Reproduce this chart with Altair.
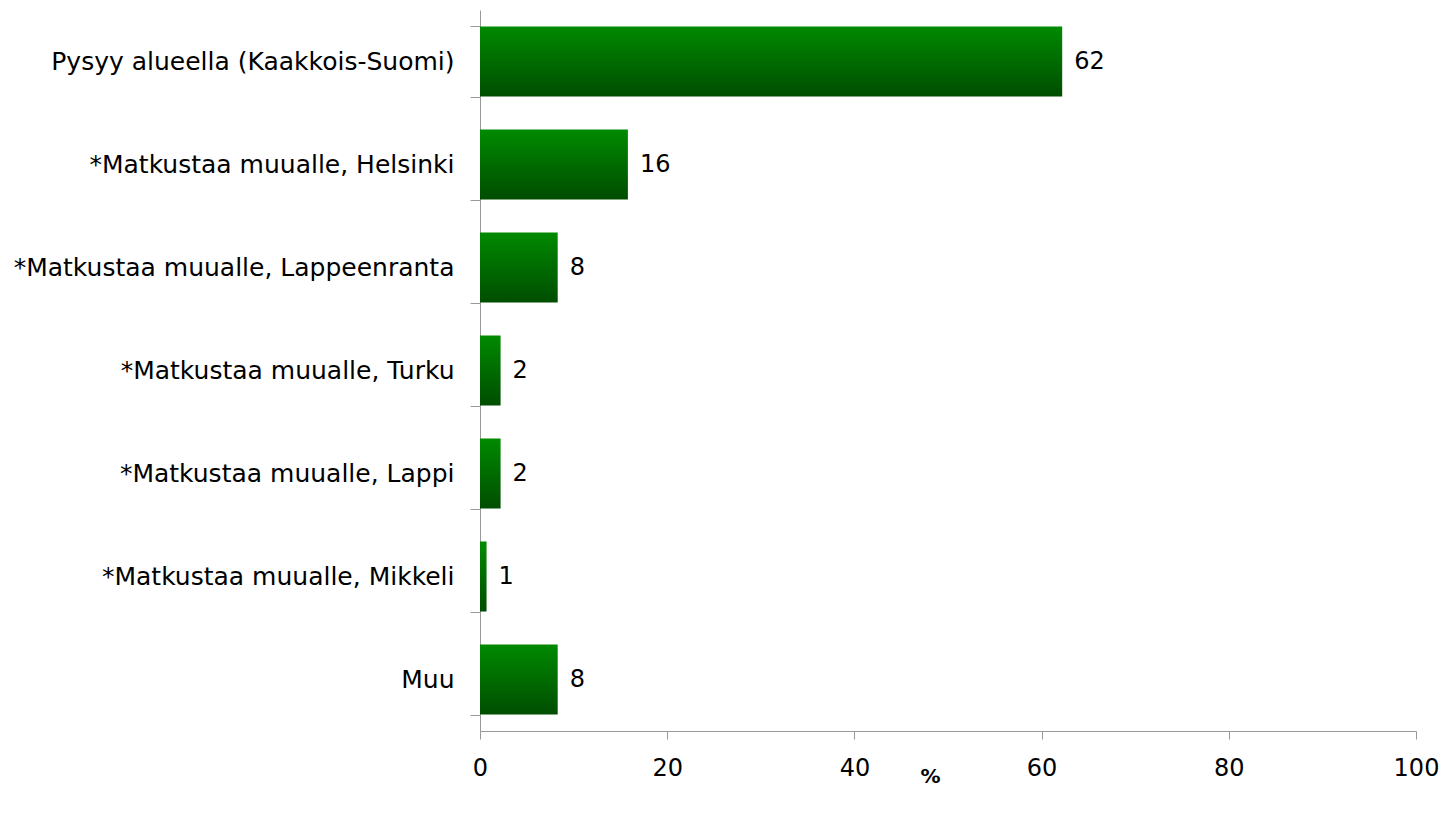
import altair as alt
import pandas as pd

categories = [
    "Pysyy alueella (Kaakkois-Suomi)",
    "*Matkustaa muualle, Helsinki",
    "*Matkustaa muualle, Lappeenranta",
    "*Matkustaa muualle, Turku",
    "*Matkustaa muualle, Lappi",
    "*Matkustaa muualle, Mikkeli",
    "Muu",
]
values = [62.2, 15.8, 8.3, 2.2, 2.2, 0.7, 8.3]
labels = ["62", "16", "8", "2", "2", "1", "8"]

df = pd.DataFrame({"cat": categories, "val": values, "lab": labels})

FONT = "DejaVu Sans"

y = alt.Y("cat:N", sort=categories, title=None,
          scale=alt.Scale(paddingInner=0.32, paddingOuter=0.16),
          axis=alt.Axis(labelFontSize=25, labelFont=FONT, labelColor="black",
                        tickBand="extent", tickSize=10, tickColor="#999999",
                        domainColor="#999999", labelPadding=16, labelLimit=600))

bars = alt.Chart(df).mark_bar(
    color=alt.Gradient(
        gradient="linear", x1=0, x2=0, y1=0, y2=1,
        stops=[alt.GradientStop(offset=0, color="#008a00"),
               alt.GradientStop(offset=1, color="#004d00")]
    )
).encode(
    x=alt.X("val:Q", title="%",
            scale=alt.Scale(domain=[0, 100]),
            axis=alt.Axis(values=[0, 20, 40, 60, 80, 100], grid=False,
                          labelFlush=False,
                          labelFontSize=24, labelFont=FONT, labelColor="black",
                          tickSize=8, tickColor="#999999", domainColor="#999999",
                          labelPadding=17, titleFont=FONT, titleFontSize=20,
                          titleFontWeight="bold", titleX=450, titleY=45,
                          titleBaseline="middle", titleColor="black")),
    y=y,
)

text = alt.Chart(df).mark_text(align="left", baseline="middle", dx=12,
                               fontSize=24, font=FONT, color="black").encode(
    x="val:Q", y=alt.Y("cat:N", sort=categories), text="lab:N")

chart = (bars + text).properties(
    width=936, height=721,
    padding={"left": 5, "top": -10, "right": 0, "bottom": 2}
).configure_view(stroke=None)

chart.save("out.html", embed_options={"renderer": "svg", "actions": False})
